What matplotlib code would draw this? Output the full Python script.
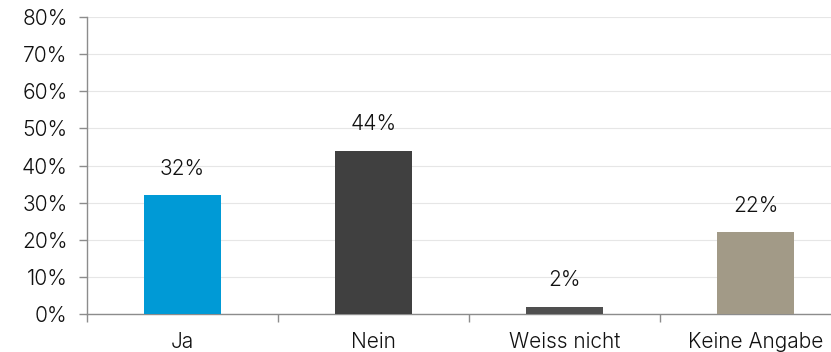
import matplotlib
matplotlib.use("Agg")
import matplotlib.pyplot as plt
from matplotlib.ticker import FuncFormatter, FixedLocator

categories = ["Ja", "Nein", "Weiss nicht", "Keine Angabe"]
values = [32, 44, 2, 22]
colors = ["#009AD6", "#404040", "#4F4F4F", "#A29A87"]
y_ticks = [0, 10, 20, 30, 40, 50, 60, 70, 80]

plt.rcParams["font.family"] = ["Inter", "DejaVu Sans"]
plt.rcParams["font.weight"] = 300

fig = plt.figure(figsize=(8.31, 3.52), dpi=100)
ax = fig.add_axes([87 / 831, 38 / 352, 764 / 831, 297 / 352])

x = list(range(len(categories)))
ax.bar(x, values, width=0.40, color=colors, zorder=3)

for xi, v in zip(x, values):
    ax.annotate(f"{v}%", (xi, v), xytext=(0, 12), textcoords="offset points",
                ha="center", va="bottom", fontsize=15, color="#111111")

ax.set_xlim(-0.5, len(categories) - 0.5)
ax.set_ylim(0, 80)
ax.yaxis.set_major_locator(FixedLocator(y_ticks))
ax.yaxis.set_major_formatter(FuncFormatter(lambda v, p: f"{v:.0f}%"))
ax.grid(axis="y", color="#E6E6E6", linewidth=0.8, zorder=0)

ax.set_xticks(x)
ax.set_xticklabels(categories)
ax.tick_params(axis="x", which="major", length=0, pad=13, labelsize=15, labelcolor="#111111")
ax.set_xticks([i - 0.5 for i in range(len(categories) + 1)], minor=True)
ax.tick_params(axis="x", which="minor", length=6, color="#8C8C8C", width=1)
ax.tick_params(axis="y", length=6, color="#8C8C8C", width=1, labelsize=15, labelcolor="#111111", pad=8)

for s in ["top", "right"]:
    ax.spines[s].set_visible(False)
for s in ["left", "bottom"]:
    ax.spines[s].set_color("#8C8C8C")
    ax.spines[s].set_linewidth(1)

fig.savefig("out.png", dpi=100)
